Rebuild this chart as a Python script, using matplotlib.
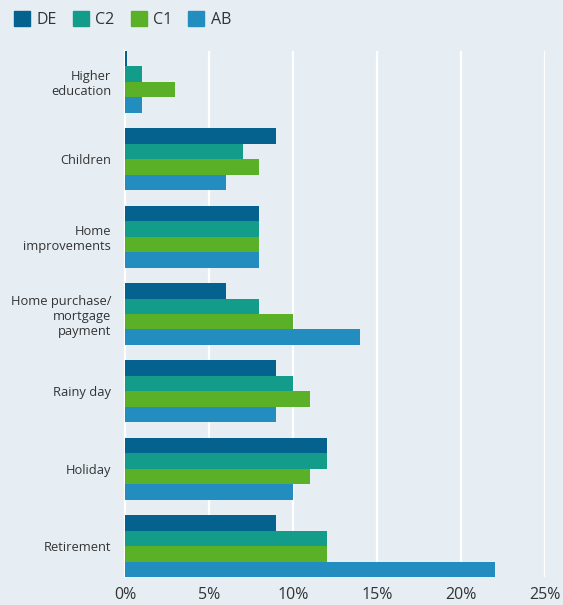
import numpy as np
import matplotlib.pyplot as plt
from matplotlib.patches import Patch

# === DATA ===
categories = ["Higher\neducation", "Children", "Home\nimprovements",
              "Home purchase/\nmortgage\npayment", "Rainy day", "Holiday", "Retirement"]
series_names = ["DE", "C2", "C1", "AB"]
de = [0.1, 9, 8, 6, 9, 12, 9]
c2 = [1, 7, 8, 8, 10, 12, 12]
c1 = [3, 8, 8, 10, 11, 11, 12]
ab = [1, 6, 8, 14, 9, 10, 22]
xticks = [0, 5, 10, 15, 20, 25]

colors = ["#05628f", "#139c89", "#5ab026", "#248dbf"]
bg = "#e6eef4"
txt = "#333333"

plt.rcParams['font.family'] = ['Open Sans', 'DejaVu Sans']

fig = plt.figure(figsize=(5.63, 6.05), dpi=100, facecolor=bg)
ax = fig.add_axes([125 / 563, 28 / 605, 420 / 563, 526 / 605])
ax.set_facecolor(bg)

y = np.arange(len(categories))
h = 0.2
for i, vals in enumerate([de, c2, c1, ab]):
    ax.barh(y - 0.3 + i * h, vals, height=h, color=colors[i], zorder=3)

ax.set_xlim(0, 25)
ax.set_ylim(len(categories) - 0.6, -0.4)
ax.set_xticks(xticks)
ax.set_xticklabels([f"{t}%" for t in xticks], fontsize=11.5, color=txt)
ax.set_yticks(y)
ax.set_yticklabels(categories, fontsize=9.3, color=txt, linespacing=1.2)
ax.tick_params(length=0)
ax.tick_params(axis='y', pad=10)
ax.tick_params(axis='x', pad=7)
ax.grid(axis='x', color='white', linewidth=1.6, zorder=1)
for s in ['top', 'right', 'bottom']:
    ax.spines[s].set_visible(False)
ax.spines['left'].set_color('white')
ax.spines['left'].set_linewidth(1.6)

handles = [Patch(color=c, label=n) for c, n in zip(colors, series_names)]
fig.legend(handles=handles, loc='upper left', bbox_to_anchor=(0.0, 1.005), ncol=4,
           frameon=False, fontsize=11.5, handlelength=1.0, handleheight=1.0,
           handletextpad=0.4, columnspacing=1.0, labelcolor=txt, borderaxespad=0.5)

fig.savefig("out.png", dpi=100, facecolor=bg)
